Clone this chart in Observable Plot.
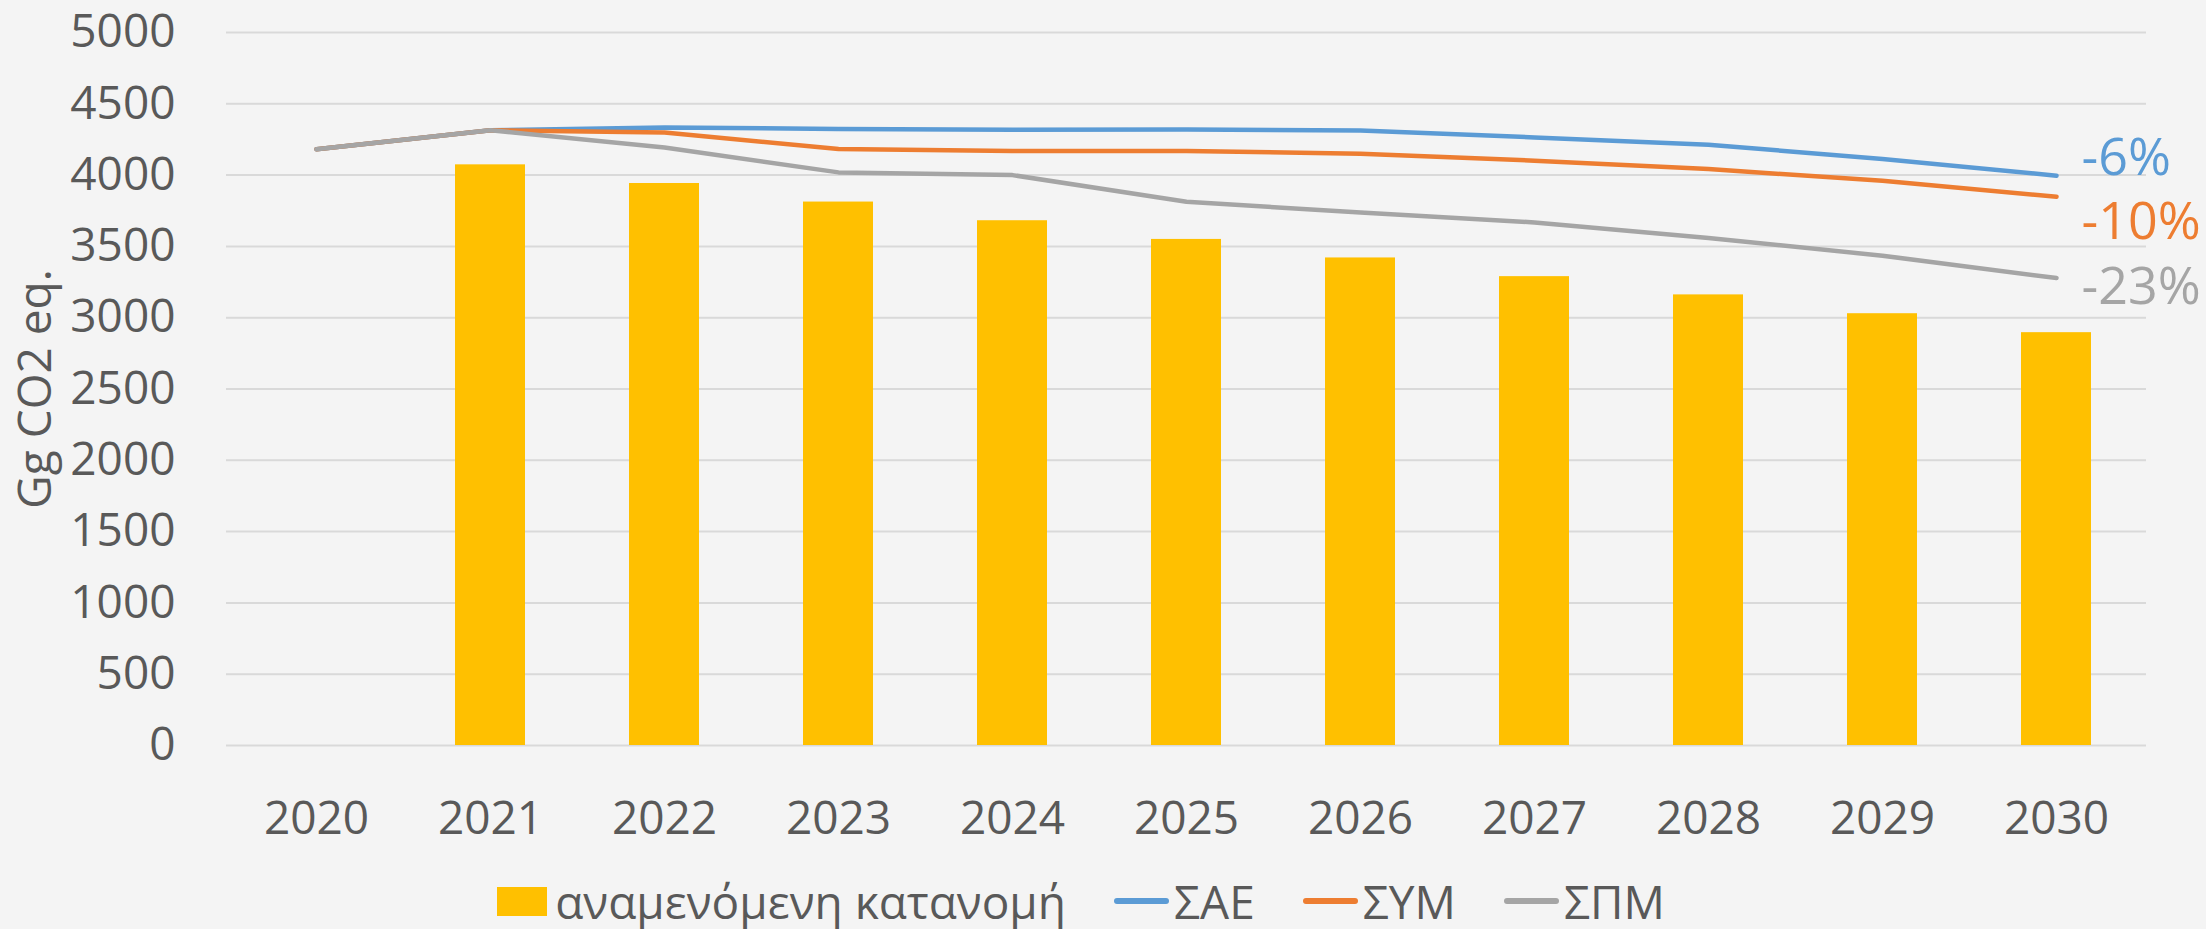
<!DOCTYPE html>
<html>
<head>
<meta charset="utf-8">
<script src="https://cdn.jsdelivr.net/npm/d3@7"></script>
<script src="https://cdn.jsdelivr.net/npm/@observablehq/plot@0.6"></script>
<style>
  html, body { margin: 0; padding: 0; background: #f4f4f4; }
  body { width: 2206px; height: 929px; position: relative; overflow: hidden; font-family: "Open Sans", sans-serif; color: #595959; }
  #chart { position: absolute; left: 0; top: 0; }
  #legend { position: absolute; left: 0; top: 872px; width: 2162px; height: 58px; display: flex; justify-content: center; align-items: center; font-size: 46px; }
  .item { display: flex; align-items: center; margin: 0 24px; }
  .sw { width: 50px; height: 29px; margin-right: 8px; }
  .ln { width: 55px; height: 6px; border-radius: 3px; margin-right: 5px; }
</style>
</head>
<body>
<div id="chart"></div>
<div id="legend"></div>
<script>
const years = ["2020","2021","2022","2023","2024","2025","2026","2027","2028","2029","2030"];
const allocation = [null, 4072, 3941, 3811, 3680, 3549, 3419, 3288, 3160, 3028, 2895];
const sae = [4182, 4315, 4334, 4323, 4318, 4320, 4313, 4264, 4213, 4113, 3996];
const sym = [4182, 4315, 4299, 4183, 4169, 4169, 4150, 4101, 4042, 3960, 3848];
const spm = [4182, 4315, 4194, 4019, 4000, 3813, 3738, 3668, 3559, 3435, 3278];
const seriesNames = ["ΣΑΕ", "ΣΥΜ", "ΣΠΜ"];
const seriesColors = ["#5b9bd5", "#ed7d31", "#a5a5a5"];
const endLabels = ["-6%", "-10%", "-23%"];
const barName = "αναμενόμενη κατανομή";
const barColor = "#ffc000";
const yTicks = [0, 500, 1000, 1500, 2000, 2500, 3000, 3500, 4000, 4500, 5000];
const yTitle = "Gg CO2 eq.";

const bars = years.map((y, i) => ({year: y, value: allocation[i]})).filter(d => d.value != null);
const seriesValues = [sae, sym, spm];
const lines = seriesValues.map((vals, s) => years.map((y, i) => ({year: y, value: vals[i], series: seriesNames[s]})));
const labelOffsets = [-17, 26, 9];

const marks = [
  Plot.ruleY(yTicks, {stroke: "#d9d9d9", strokeWidth: 2}),
  Plot.barY(bars, {x: "year", y: "value", fill: barColor}),
  ...lines.map((ld, s) => Plot.line(ld, {x: "year", y: "value", stroke: seriesColors[s], strokeWidth: 4.5, strokeLinecap: "round", strokeLinejoin: "round"})),
  ...lines.map((ld, s) => Plot.text([ld[ld.length - 1]], {x: "year", y: "value", text: () => endLabels[s], fill: seriesColors[s], textAnchor: "start", dx: 25, dy: labelOffsets[s], fontSize: 52})),
  Plot.text([yTitle], {frameAnchor: "left", text: d => d, rotate: -90, textAnchor: "middle", dx: -190, fontSize: 46, fill: "#595959"})
];

const chart = Plot.plot({
  width: 2206,
  height: 850,
  marginLeft: 226,
  marginRight: 60,
  marginTop: 32,
  marginBottom: 105,
  style: {background: "transparent", fontFamily: "'Open Sans', sans-serif", fontSize: "46px", color: "#595959"},
  x: {domain: years, paddingInner: 0.6, paddingOuter: 0.3, tickSize: 0, tickPadding: 56, label: null},
  y: {domain: [0, 5000], ticks: yTicks, tickFormat: d => String(d), tickSize: 0, tickPadding: 51, label: null},
  marks
});
document.getElementById("chart").appendChild(chart);

const legend = document.getElementById("legend");
const addItem = (kind, color, name) => {
  const it = document.createElement("div");
  it.className = "item";
  const m = document.createElement("div");
  m.className = kind;
  m.style.background = color;
  const t = document.createElement("span");
  t.textContent = name;
  it.appendChild(m); it.appendChild(t);
  legend.appendChild(it);
};
addItem("sw", barColor, barName);
seriesNames.forEach((n, s) => addItem("ln", seriesColors[s], n));
</script>
</body>
</html>
